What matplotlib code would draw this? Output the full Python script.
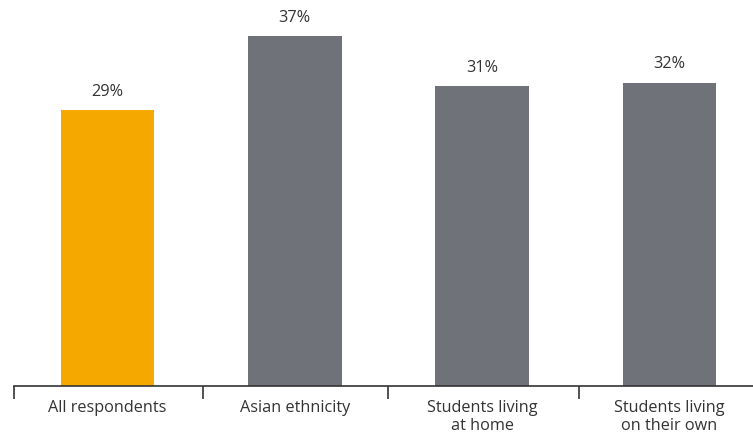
import matplotlib.pyplot as plt

categories = ['All respondents', 'Asian ethnicity', 'Students living\nat home', 'Students living\non their own']
values = [29.1, 36.9, 31.6, 32.0]
labels = ['29%', '37%', '31%', '32%']
colors = ['#F5A800', '#707279', '#707279', '#707279']

plt.rcParams['font.family'] = ['Open Sans', 'DejaVu Sans']

fig = plt.figure(figsize=(7.53, 4.34), dpi=100)
ax = fig.add_axes([13.8 / 753, 48.3 / 434, 1 - 13.8 / 753, 379 / 434])

x = range(len(categories))
ax.bar(x, values, width=0.5, color=colors)

for xi, v, lab in zip(x, values, labels):
    ax.annotate(lab, (xi, v), xytext=(0, 7.5), textcoords='offset points',
                ha='center', va='bottom', fontsize=11.7, color='#333333')

ax.set_xlim(-0.5, 3.446)
ax.set_ylim(0, 40)

for s in ['top', 'right', 'left']:
    ax.spines[s].set_visible(False)
ax.spines['bottom'].set_color('#333333')
ax.spines['bottom'].set_linewidth(1.2)
ax.set_yticks([])

ax.set_xticks(list(x))
ax.set_xticklabels(categories, fontsize=11.7, color='#333333', linespacing=1.12)
ax.tick_params(axis='x', which='major', length=0, pad=10.5)
ax.set_xticks([-0.5, 0.51, 1.5, 2.515], minor=True)
ax.tick_params(axis='x', which='minor', length=9.5, width=1.2, color='#333333')

fig.savefig('out.png', dpi=100)
